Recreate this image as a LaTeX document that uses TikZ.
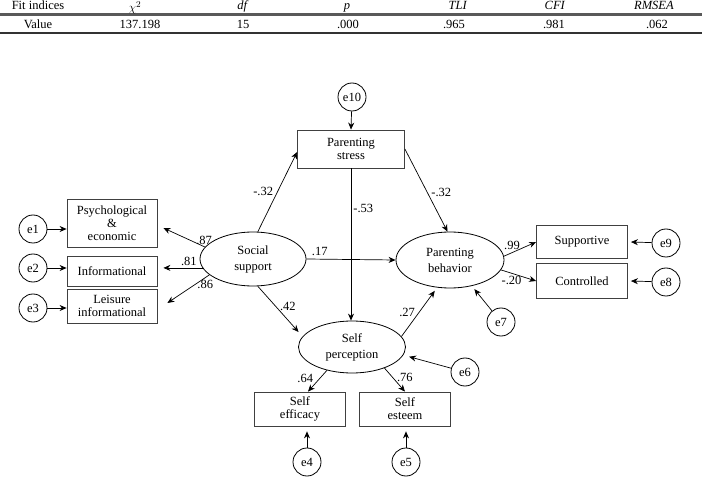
\documentclass[tikz,border=0pt]{standalone}
\usepackage{fontspec}
\setmainfont{Liberation Serif}
\usepackage{tikz}
\usetikzlibrary{
    arrows.meta,
    positioning,
    shapes.geometric
}

\begin{document}
\begin{tikzpicture}[
        x=1pt, y=-1pt,
        font=\fontsize{12.5}{15}\selectfont,
        block/.style={
            rectangle,
            draw=black!75,
            line width=0.8pt,
            align=center,
            inner sep=2pt,
            minimum width=90pt,
            font=\fontsize{12.5}{13}\selectfont
        },
        latent/.style={
            ellipse,
            draw,
            line width=0.8pt,
            align=center,
            inner sep=0pt,
            minimum width=106pt,
            minimum height=54pt,
            font=\fontsize{12.5}{16}\selectfont
        },
        error/.style={
            circle,
            draw,
            line width=0.8pt,
            inner sep=0pt,
            minimum size=28pt
        },
        line/.style={
            -{Stealth[length=7pt, width=6pt]},
            line width=0.7pt
        },
        coef/.style={
            inner sep=1pt
        }
    ]

    \useasboundingbox (0,0) rectangle (702,481);

    % fit table
    \draw[line width=3pt, black!65] (0,14.5) -- (702,14.5);
    \draw[line width=1.8pt, black!80] (0,33) -- (702,33);

    \foreach \name/\xpos/\ypos [count=\i] in {Fit indices/38/10,
        $\chi^{2}$/135/11.5,
        \textit{df}/243/10, \textit{p}/347/10, \textit{TLI}/458/10,
        \textit{CFI}/555/10, \textit{RMSEA}/654/10}
        \node[anchor=base] (head\i) at (\xpos,\ypos) {\name};

    \foreach \val/\xpos [count=\i] in {Value/38, 137.198/140, 15/243,
        .000/348, .965/454, .981/554, .062/657}
        \node[anchor=base] (val\i) at (\xpos,28.5) {\val};

    % latent variables
    \node[latent] (social) at (253,259) {Social\\support};
    \node[latent, minimum width=108pt, minimum height=56pt] (behavior)
        at (450,260) {Parenting\\behavior};
    \node[latent, minimum width=107pt, minimum height=52pt] (perception)
        at (352,347) {Self\\perception};

    % observed variables
    \node[block, minimum width=107pt, minimum height=38pt] (stress)
        at (351,149) {Parenting\\stress};
    \node[block, minimum height=48pt] (psych)
        at (112,223) {Psychological\\\&\\economic};
    \node[block, minimum height=30pt] (info)
        at (112,271) {Informational};
    \node[block, minimum height=34pt] (leisure)
        at (112,306) {Leisure\\informational};
    \node[block, minimum width=91pt, minimum height=33pt] (supportive)
        at (582,242) {Supportive};
    \node[block, minimum width=91pt, minimum height=35pt] (controlled)
        at (582,281) {Controlled};
    \node[block, minimum width=91pt, minimum height=34pt] (efficacy)
        at (300,409) {Self\\efficacy};
    \node[block, minimum width=91pt, minimum height=34pt] (esteem)
        at (405,409) {Self\\esteem};

    % error terms
    \node[error] (e1) at (33,229) {e1};
    \node[error] (e2) at (33,268) {e2};
    \node[error] (e3) at (33,308) {e3};
    \node[error] (e4) at (307,462) {e4};
    \node[error] (e5) at (406,462) {e5};
    \node[error] (e6) at (465,372) {e6};
    \node[error] (e7) at (501,322) {e7};
    \node[error] (e8) at (666,282) {e8};
    \node[error] (e9) at (666,243) {e9};
    \node[error] (e10) at (352,97) {e10};

    % structural paths
    \draw[line] (social.80) -- node[coef, pos=0.5, left=3pt] {-.32}
        ([shift={(0,3)}]stress.west);
    \draw[line] (stress.east) -- node[coef, pos=0.52, right=3pt] {-.32}
        (behavior.95);
    \draw[line] (stress.south) -- node[coef, pos=0.26, right=1pt] {-.53}
        (stress.south |- perception.north);
    \draw[line] (social.east) -- node[coef, pos=0.15, above=2pt] {.17}
        (behavior.west);
    \draw[line, shorten >=6pt] (social.-80) -- node[coef, pos=0.4, right=3pt] {.42}
        (perception.168);
    \draw[line, shorten >=4pt] (perception.12) -- node[coef, pos=0.5, left=3pt] {.27}
        (behavior.-115);

    % measurement paths
    \draw[line] (social.166) -- node[coef, pos=0.02, above=1pt] {.87}
        ([shift={(6,5)}]psych.east);
    \draw[line] (social.190) -- node[coef, pos=0.35, above=1pt] {.81}
        ([xshift=6pt]social.190 -| info.east);
    \draw[line] (social.200) -- node[coef, pos=0.1, below=1pt] {.86}
        ([shift={(10,-3)}]leisure.east);
    \draw[line] (behavior.4) -- node[coef, pos=0.25, above=2pt] {.99}
        (supportive.west);
    \draw[line] (behavior.-11) -- node[coef, pos=0.3, below=2pt] {-.20}
        (controlled.west);
    \draw[line] (perception.223) -- node[coef, pos=0.4, left=5pt] {.64}
        ([xshift=8pt]efficacy.north);
    \draw[line] (perception.-33) -- node[coef, pos=0.4, right=3pt] {.76}
        (esteem.north);

    % error arrows
    \draw[line] (e1) -- (e1 -| psych.west);
    \draw[line] (e2) -- (e2 -| info.west);
    \draw[line] (e3) -- (e3 -| leisure.west);
    \draw[line, shorten >=5pt] (e4) -- (e4 |- efficacy.south);
    \draw[line, shorten >=5pt] (e5) -- (e5 |- esteem.south);
    \draw[line, shorten >=6pt] (e6) -- (perception.-9);
    \draw[line, shorten >=4pt] (e7) -- (behavior.-50);
    \draw[line] (e8) -- ([xshift=3pt]controlled.east);
    \draw[line] (e9) -- ([xshift=3pt]supportive.east);
    \draw[line] (e10) -- (stress.north);

\end{tikzpicture}
\end{document}
